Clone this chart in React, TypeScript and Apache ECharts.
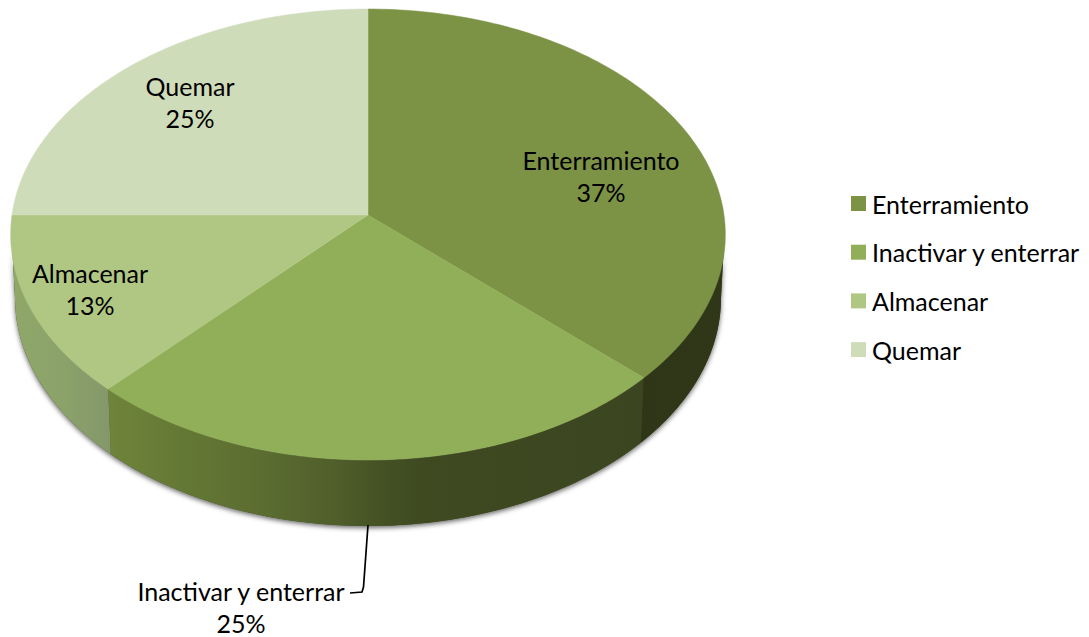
import React, { useEffect, useRef } from "react";
import * as echarts from "echarts";

// Share of each disposal method, clockwise from twelve o'clock
const categories = ["Enterramiento", "Inactivar y enterrar", "Almacenar", "Quemar"];
const shares = [37, 25, 13, 25];

const topColors = ["#7c9346", "#91af59", "#b0c783", "#cfdcba"];
const sideStops: [number, string][][] = [
  [[0, "#2e3617"], [1, "#2f3718"]],
  [[0, "#6f843a"], [0.14, "#647835"], [0.3, "#5a6c30"], [0.42, "#505f2b"], [0.5, "#465325"], [0.58, "#3f4a21"], [1, "#3b4520"]],
  [[0, "#8fa768"], [0.5, "#8ba36a"], [1, "#84976a"]],
  [[0, "#cfdcba"], [1, "#cfdcba"]],
];

// Where each two-line data label sits
const labelSpots = [[601, 176], [241, 607], [90, 289], [190, 102]];

const FONT_FAMILY = "Lato";
const FONT_SIZE = 25;

// Tilted disc: the top face is a perspective view of a circle, the lower rim an ellipse beneath it
const hub = { x: 368, y: 215 };
const faceSpan = { x: 356, y: 223.8, k: 0.0865 };
const rimTop = { x: 368, y: 234.5, rx: 356.5, ry: 225.5 };
const rimBottom = { x: 368, y: 298, rx: 353, ry: 228 };

const total = shares.reduce((a, b) => a + b, 0);

function facePoint(theta: number): [number, number] {
  const u = Math.sin(theta);
  const v = -Math.cos(theta);
  const d = 1 - faceSpan.k * v;
  return [hub.x + (faceSpan.x * u) / d, hub.y + (faceSpan.y * v) / d];
}

// Angle around the drawn ellipse for a given angle around the disc
function rimAngle(theta: number): number {
  const [px, py] = facePoint(theta);
  let a = Math.atan2((px - rimTop.x) / rimTop.rx, -(py - rimTop.y) / rimTop.ry);
  if (a < 0) a += Math.PI * 2;
  return a;
}

const onEllipse = (e: typeof rimTop, a: number): [number, number] => [
  e.x + e.rx * Math.sin(a),
  e.y - e.ry * Math.cos(a),
];

function band(a0: number, a1: number): [number, number][] {
  const steps = 90;
  const upper: [number, number][] = [];
  const lower: [number, number][] = [];
  for (let i = 0; i <= steps; i++) {
    const a = a0 + ((a1 - a0) * i) / steps;
    upper.push(onEllipse(rimTop, a));
    lower.push(onEllipse(rimBottom, a));
  }
  return upper.concat(lower.reverse());
}

function sliceItem(index: number) {
  return (_params: unknown, api: any) => {
    const value = api.value(0) as number;
    const before = shares.slice(0, index).reduce((a, b) => a + b, 0);
    const start = (before / total) * Math.PI * 2;
    const end = ((before + value) / total) * Math.PI * 2;

    const face: [number, number][] = [[hub.x, hub.y]];
    const steps = 120;
    for (let i = 0; i <= steps; i++) face.push(facePoint(start + ((end - start) * i) / steps));

    const children: any[] = [];
    const a0 = Math.max(rimAngle(start + 1e-6), Math.PI / 2);
    const a1 = Math.min(rimAngle(end - 1e-6), (Math.PI * 3) / 2);
    if (a1 > a0 && a0 < (Math.PI * 3) / 2) {
      children.push({
        type: "polygon",
        shape: { points: band(a0, a1) },
        style: {
          fill: new echarts.graphic.LinearGradient(0, 0, 1, 0,
            sideStops[index].map(([offset, color]) => ({ offset, color }))),
        },
      });
    }
    children.push({
      type: "polygon",
      shape: { points: face },
      style: { fill: topColors[index], stroke: topColors[index], lineWidth: 0.5 },
    });
    return { type: "group", children };
  };
}

function labelItem(index: number) {
  return (_params: unknown, api: any) => {
    const children: any[] = [{
      type: "text",
      style: {
        text: `${categories[index]}\n${api.value(0)}%`,
        x: labelSpots[index][0],
        y: labelSpots[index][1],
        align: "center",
        verticalAlign: "middle",
        fontFamily: FONT_FAMILY,
        fontSize: FONT_SIZE,
        lineHeight: 32,
        fill: "#000000",
      },
    }];
    if (index === 1) {
      // Leader from the disc's front edge to the outside label
      children.push({
        type: "polyline",
        shape: { points: [[368, 525], [363.5, 587], [362, 592], [350, 593]] },
        style: { stroke: "#000000", lineWidth: 1.7, fill: "none" },
      });
    }
    return { type: "group", children };
  };
}

function shadowItem() {
  return {
    type: "polygon",
    shape: { points: band(Math.PI / 2, (Math.PI * 3) / 2) },
    style: {
      fill: "#3b4520",
      shadowBlur: 5,
      shadowColor: "rgba(0,0,0,0.6)",
      shadowOffsetY: 2,
    },
  };
}

export default function App() {
  const ref = useRef<HTMLDivElement>(null);

  useEffect(() => {
    document.body.style.margin = "0";
    const chart = echarts.init(ref.current!, undefined, { renderer: "svg" });
    const sliceSeries = categories.map((name, i) => ({
      type: "custom",
      name,
      coordinateSystem: "none",
      silent: true,
      itemStyle: { color: topColors[i] },
      data: [[shares[i]]],
      renderItem: sliceItem(i),
    }));
    const labelSeries = categories.map((name, i) => ({
      type: "custom",
      name: `${name} %`,
      coordinateSystem: "none",
      silent: true,
      data: [[shares[i]]],
      renderItem: labelItem(i),
    }));
    chart.setOption({
      animation: false,
      backgroundColor: "#ffffff",
      legend: {
        orient: "vertical",
        left: 846,
        top: 186,
        icon: "rect",
        itemWidth: 15,
        itemHeight: 15,
        itemGap: 23.7,
        selectedMode: false,
        textStyle: { fontFamily: FONT_FAMILY, fontSize: FONT_SIZE, color: "#000000", padding: [0, 0, 0, 1] },
        data: categories.map((name, i) => ({ name, itemStyle: { color: topColors[i] } })),
      },
      series: [
        {
          type: "custom",
          name: "base",
          coordinateSystem: "none",
          silent: true,
          data: [[0]],
          renderItem: shadowItem,
        },
        ...sliceSeries,
        ...labelSeries,
      ],
    });
    return () => chart.dispose();
  }, []);

  return <div ref={ref} style={{ width: 1089, height: 637 }} />;
}
